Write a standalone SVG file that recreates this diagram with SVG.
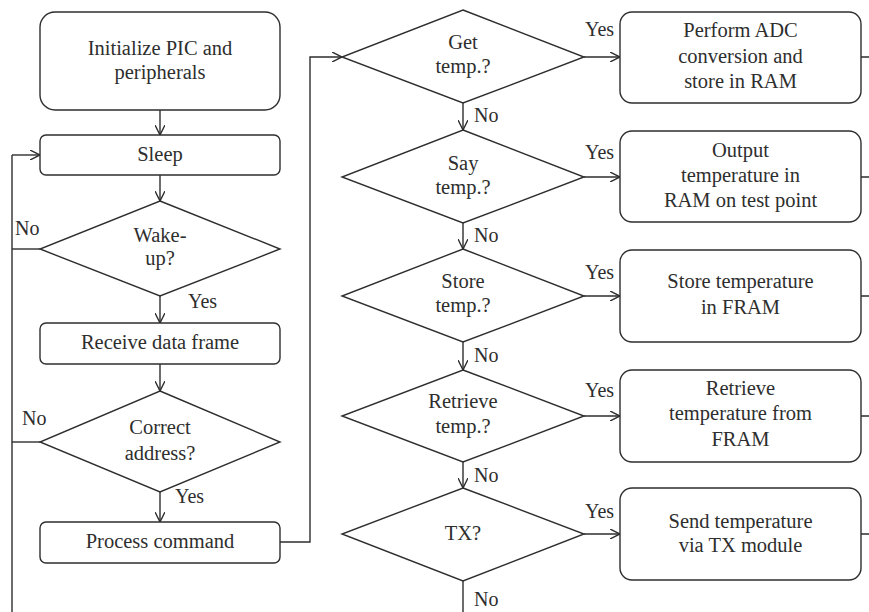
<svg xmlns="http://www.w3.org/2000/svg" width="869" height="612" viewBox="0 0 869 612">
<style>
.b{fill:#fff;stroke:#2e2e2e;stroke-width:1.4}
.t{font-family:"Liberation Serif","Times New Roman",serif;font-size:20.5px;fill:#2e2e2e;text-anchor:middle}
.l{font-family:"Liberation Serif","Times New Roman",serif;font-size:20px;fill:#2e2e2e}
.c{fill:none;stroke:#2e2e2e;stroke-width:1.4}
</style>
<defs>
<marker id="a" viewBox="0 0 10 10" markerWidth="10" markerHeight="10" refX="10" refY="5" orient="auto" markerUnits="userSpaceOnUse">
<path d="M0,0 L10,5 L0,10" fill="none" stroke="#2e2e2e" stroke-width="1.4"/>
</marker>
</defs>
<rect width="869" height="612" fill="#fff"/>
<g id="connectors">
<path class="c" d="M160,110 V135" marker-end="url(#a)"/>
<path class="c" d="M160,175 V201" marker-end="url(#a)"/>
<path class="c" d="M160,296 V323" marker-end="url(#a)"/>
<path class="c" d="M160,364 V391" marker-end="url(#a)"/>
<path class="c" d="M160,492 V522" marker-end="url(#a)"/>
<path class="c" d="M12,155 V612"/>
<path class="c" d="M40,249 H12"/>
<path class="c" d="M40,442 H12"/>
<path class="c" d="M12,155 H40" marker-end="url(#a)"/>
<path class="c" d="M280,542 H310 V57 H342" marker-end="url(#a)"/>
<path class="c" d="M463,103 V130" marker-end="url(#a)"/>
<path class="c" d="M463,223 V249" marker-end="url(#a)"/>
<path class="c" d="M463,342 V370" marker-end="url(#a)"/>
<path class="c" d="M463,462 V488" marker-end="url(#a)"/>
<path class="c" d="M463,581 V612"/>
<path class="c" d="M584,57 H620" marker-end="url(#a)"/>
<path class="c" d="M584,177 H620" marker-end="url(#a)"/>
<path class="c" d="M584,296 H620" marker-end="url(#a)"/>
<path class="c" d="M584,416 H620" marker-end="url(#a)"/>
<path class="c" d="M584,534 H620" marker-end="url(#a)"/>
<path class="c" d="M861,57 H869 M861,177 H869 M861,296 H869 M861,416 H869 M861,534 H869"/>
<text class="l" x="15" y="235">No</text>
<text class="l" x="188" y="308">Yes</text>
<text class="l" x="22" y="425">No</text>
<text class="l" x="175" y="503">Yes</text>
<text class="l" x="474" y="122">No</text>
<text class="l" x="474" y="242">No</text>
<text class="l" x="474" y="362">No</text>
<text class="l" x="474" y="482">No</text>
<text class="l" x="474" y="606">No</text>
<text class="l" x="585" y="36">Yes</text>
<text class="l" x="585" y="159">Yes</text>
<text class="l" x="585" y="279">Yes</text>
<text class="l" x="585" y="397">Yes</text>
<text class="l" x="585" y="518">Yes</text>
</g>
<g id="init"><rect class="b" x="40" y="12" width="240" height="98" rx="15"/>
<text class="t" x="160" y="55">Initialize PIC and</text><text class="t" x="160" y="79">peripherals</text></g>
<g id="sleep"><rect class="b" x="40" y="135" width="240" height="40" rx="6"/>
<text class="t" x="160" y="161">Sleep</text></g>
<g id="wakeup"><polygon class="b" points="160,201 280,249 160,296 40,249"/>
<text class="t" x="160" y="242">Wake-</text><text class="t" x="160" y="265">up?</text></g>
<g id="receive"><rect class="b" x="40" y="323" width="240" height="41" rx="6"/>
<text class="t" x="160" y="349">Receive data frame</text></g>
<g id="address"><polygon class="b" points="160,391 280,442 160,492 40,442"/>
<text class="t" x="160" y="434">Correct</text><text class="t" x="160" y="460">address?</text></g>
<g id="process"><rect class="b" x="40" y="522" width="240" height="41" rx="6"/>
<text class="t" x="160" y="548">Process command</text></g>
<g id="get"><polygon class="b" points="463,10 584,57 463,103 342,57"/>
<text class="t" x="463" y="49">Get</text><text class="t" x="463" y="73">temp.?</text></g>
<g id="say"><polygon class="b" points="463,130 584,177 463,223 342,177"/>
<text class="t" x="463" y="170">Say</text><text class="t" x="463" y="194">temp.?</text></g>
<g id="store"><polygon class="b" points="463,249 584,296 463,342 342,296"/>
<text class="t" x="463" y="288">Store</text><text class="t" x="463" y="312">temp.?</text></g>
<g id="retrieve"><polygon class="b" points="463,370 584,416 463,462 342,416"/>
<text class="t" x="463" y="408">Retrieve</text><text class="t" x="463" y="433">temp.?</text></g>
<g id="tx"><polygon class="b" points="463,488 584,534 463,581 342,534"/>
<text class="t" x="463" y="540">TX?</text></g>
<g id="adc"><rect class="b" x="620" y="12" width="241" height="91" rx="12"/>
<text class="t" x="740.5" y="37">Perform ADC</text><text class="t" x="740.5" y="63">conversion and</text><text class="t" x="740.5" y="88">store in RAM</text></g>
<g id="output"><rect class="b" x="620" y="131" width="241" height="91" rx="12"/>
<text class="t" x="740.5" y="157">Output</text><text class="t" x="740.5" y="182">temperature in</text><text class="t" x="740.5" y="207">RAM on test point</text></g>
<g id="storefram"><rect class="b" x="620" y="250" width="241" height="92" rx="12"/>
<text class="t" x="740.5" y="288">Store temperature</text><text class="t" x="740.5" y="314">in FRAM</text></g>
<g id="retrievefram"><rect class="b" x="620" y="370" width="241" height="92" rx="12"/>
<text class="t" x="740.5" y="395">Retrieve</text><text class="t" x="740.5" y="420">temperature from</text><text class="t" x="740.5" y="446">FRAM</text></g>
<g id="send"><rect class="b" x="620" y="488" width="241" height="92" rx="12"/>
<text class="t" x="740.5" y="528">Send temperature</text><text class="t" x="740.5" y="552">via TX module</text></g>
</svg>
